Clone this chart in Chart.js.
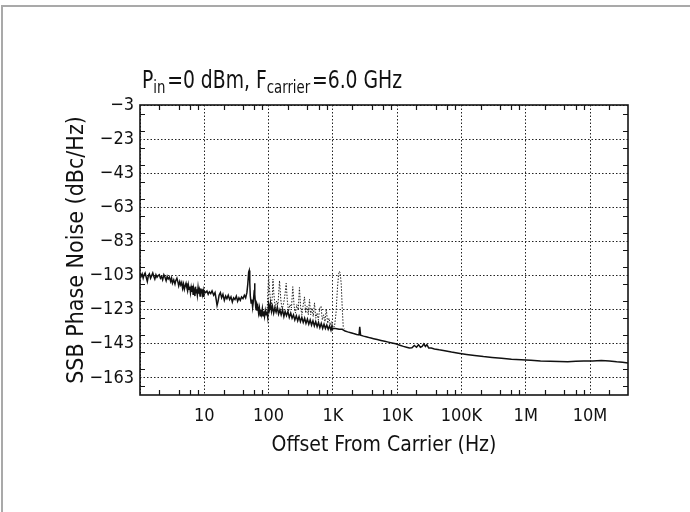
<!DOCTYPE html>
<html>
<head>
<meta charset="utf-8">
<script src="https://cdn.jsdelivr.net/npm/chart.js@4.4.1/dist/chart.umd.min.js"></script>
<style>
  html, body { margin: 0; padding: 0; background: #fff; overflow: hidden; }
  #wrap { position: relative; width: 690px; height: 512px; }
  #frame { position: absolute; left: 1px; top: 5px; width: 700px; height: 520px;
           border-left: 2px solid #a9a9a9; border-top: 2px solid #a9a9a9; }
  canvas { position: absolute; left: 0; top: 0; }
</style>
</head>
<body>
<div id="wrap">
  <div id="frame"></div>
  <canvas id="chart" width="690" height="512"></canvas>
</div>
<script>
// 軸の設定
const FONT = '"Liberation Sans Narrow", "DejaVu Sans Condensed", "Arial Narrow", sans-serif';
const xMin = 1, xMax = 3.9e7;
const yMin = -173, yMax = -3;

const xTicks = [1, 10, 100, 1e3, 1e4, 1e5, 1e6, 1e7];
const xTickLabels = ["", "10", "100", "1K", "10K", "100K", "1M", "10M"];
const yTicks = [-3, -13, -23, -33, -43, -53, -63, -73, -83, -93, -103, -113, -123, -133, -143, -153, -163, -173];
const yTickLabels = ["−3", "", "−23", "", "−43", "", "−63", "", "−83", "", "−103", "", "−123", "", "−143", "", "−163", ""];

// 実線トレース（位相雑音）
const noiseFreq = [
  1.0, 1.04, 1.08, 1.12, 1.16, 1.2, 1.25, 1.3, 1.35, 1.4, 1.46, 1.52, 1.58, 1.64, 1.7, 1.77, 1.84, 1.92,
  2.0, 2.08, 2.16, 2.25, 2.35, 2.45, 2.55, 2.65, 2.75, 2.87, 3.0, 3.1, 3.2, 3.35, 3.5, 3.6, 3.75, 3.9,
  4.0, 4.15, 4.3, 4.45, 4.6, 4.75, 4.9, 5.05, 5.2, 5.35, 5.5, 5.65, 5.8, 5.95, 6.1, 6.25, 6.4, 6.55,
  6.7, 6.85, 7.0, 7.15, 7.3, 7.45, 7.6, 7.8, 8.0, 8.2, 8.4, 8.6, 8.8, 9.0, 9.2, 9.4, 9.6, 9.8, 10,
  10.5, 11, 11.5, 12, 12.6, 13.2, 14, 14.7, 15.3, 15.8, 16.4, 17, 17.8, 18.6, 19.5, 20.5, 21.5, 22.5,
  23.6, 24.8, 26, 27.3, 28.6, 30, 31.5, 33, 34.6, 36.3, 38, 40, 42, 44, 46, 47.5,
  49, 50, 51, 52, 53.5, 55, 56.5, 58, 59.5, 60.5, 61.5, 63, 64.5, 66, 68, 70, 72, 74, 76, 78, 80, 82,
  84, 86.5, 89, 91.5, 94, 97, 100,
  103, 107, 111, 115, 120, 125, 131, 137, 143, 150, 157, 165, 173, 181, 190, 200, 210, 221, 232, 244,
  256, 270, 284, 298, 313, 329, 346, 364, 382, 402, 422, 444, 466, 490, 515, 541, 569, 598, 628, 660,
  694, 729, 766, 805, 846, 889, 934, 960, 985, 1010,
  1100, 1250, 1400, 1550, 1700, 1900, 2100, 2350, 2550, 2620, 2700, 3000, 3400, 3800, 4300, 4900,
  5600, 6400, 7300, 8300, 9500, 11000, 12500, 14000, 15500, 17000, 18500, 20000, 21500, 23000, 24500,
  26000, 27500, 29000, 31000, 34000, 38000, 45000, 55000, 70000, 90000, 120000, 160000, 220000,
  300000, 420000, 600000, 850000, 1.2e6, 1.7e6, 2.4e6, 3.3e6, 4.5e6, 6e6, 8e6, 1.1e7, 1.5e7, 2e7,
  2.6e7, 3.2e7, 3.9e7
];
const noiseDb = [
  -101.5, -103.5, -102, -104.5, -102.5, -101.5, -104, -106.5, -103, -102, -104.5, -103, -101.5, -103.5, -105, -102.5, -104, -103,
  -102.5, -104.5, -103.5, -105.5, -102.5, -104, -106, -103.5, -105, -104, -106.5, -104.5, -107.5, -105.5, -108, -106, -104.5, -107,
  -109, -106.5, -108.5, -107, -110.5, -108, -111, -109, -107.5, -110, -112, -108.5, -111, -109.5, -113, -110, -112.5, -109,
  -114, -110.5, -112, -115, -109.5, -113, -111, -114.5, -110, -113.5, -111.5, -115, -110.5, -113, -111, -114, -112, -115.5, -112,
  -113, -112, -114, -112.5, -113.5, -112, -114.5, -113, -117, -120.5, -118, -114.5, -113, -116, -114, -117.5, -115, -116.5,
  -114.5, -117, -115.5, -118.5, -116, -117, -115, -118, -116, -117.5, -115.5, -116.5, -114.5, -116, -113, -108,
  -101, -100, -107, -115, -119, -117, -121.5, -118, -113, -107.5, -114, -121, -119.5, -123.5, -121, -125, -122, -126.5, -123, -125.5, -122.5, -126.5,
  -124, -127, -123.5, -126, -124, -127.5, -120,
  -123, -119, -124, -121, -125, -122, -124.5, -121.5, -125.5, -123, -126, -123, -127, -124, -126.5, -124, -127.5, -125, -128, -126,
  -129, -126.5, -129.5, -127, -130, -127.5, -130.5, -128, -131, -128.5, -131.5, -129, -132, -129.5, -132.5, -130, -133, -130.5, -133.5, -131,
  -134, -131.5, -134, -132, -134.5, -132.5, -135, -133, -134.5, -134,
  -134, -134.5, -134.5, -135.5, -136, -136.5, -137, -137.5, -137.8, -133, -138, -138.5, -139, -139.5, -140, -140.5,
  -141, -141.5, -142, -142.5, -143, -143.8, -144.5, -145, -145.5, -145.3, -144, -145, -143.5, -145, -144.5,
  -143, -144.5, -143.5, -145.5, -145.5, -146, -146.5, -147, -147.8, -148.5, -149.2, -149.8, -150.5,
  -151, -151.5, -152, -152.3, -152.6, -153, -153.2, -153.3, -153.5, -153.2, -153, -153, -152.8, -153,
  -153.5, -153.8, -154.2
];

// 点線トレース（スプリアス）
const spurFreq = [
  95, 100, 104, 109, 114, 117, 121, 127, 133, 140, 148, 155, 162, 172, 180, 188, 196, 205, 215, 227,
  238, 250, 262, 275, 290, 302, 316, 330, 346, 362, 378, 396, 415, 433, 452, 472, 495, 518, 542, 568,
  595, 625, 655, 685, 720, 755, 790, 830, 870, 915, 960, 1000, 1060, 1120, 1180, 1230, 1265, 1300,
  1350, 1400, 1450, 1500
];
const spurDb = [
  -124, -103, -112, -121, -116, -105, -114, -122, -118, -120, -106, -117, -123, -119, -114, -107.5, -118, -124, -120, -122,
  -109.5, -121, -125, -120, -123, -110, -122, -126, -120, -115.5, -125, -121, -126, -117, -126, -122, -127, -119, -128, -125,
  -129, -122, -121, -129, -126, -130, -122.5, -131, -128, -132, -130, -133, -133, -125, -110, -102, -100.5, -101.5,
  -108, -122, -133, -134
];

// タイトル（下付き文字つき）
const titleParts = [
  { text: "P", sub: false }, { text: "in", sub: true }, { text: "=0 dBm, F", sub: false },
  { text: "carrier", sub: true }, { text: "=6.0 GHz", sub: false }
];

const toPoints = (xs, ys) => xs.map((x, i) => ({ x, y: ys[i] }));

// 枠・内向き目盛り・タイトルを描く
const framePlugin = {
  id: "framePlugin",
  afterDraw(chart) {
    const { ctx, chartArea: a, scales: { x, y } } = chart;
    ctx.save();
    ctx.strokeStyle = "#151515";
    ctx.lineWidth = 1.2;
    ctx.beginPath();
    yTicks.forEach(v => {
      const py = Math.round(y.getPixelForValue(v - 5)) + 0.5;
      if (v - 5 <= yMin) return;
      ctx.moveTo(a.left, py); ctx.lineTo(a.left + 5, py);
      ctx.moveTo(a.right, py); ctx.lineTo(a.right - 5, py);
    });
    xTicks.forEach(d => {
      [2, 4, 6, 8].forEach(m => {
        if (d * m >= xMax) return;
        const px = Math.round(x.getPixelForValue(d * m)) + 0.5;
        ctx.moveTo(px, a.bottom); ctx.lineTo(px, a.bottom - 5);
        ctx.moveTo(px, a.top); ctx.lineTo(px, a.top + 5);
      });
    });
    ctx.stroke();
    ctx.lineWidth = 1.6;
    ctx.strokeRect(a.left, a.top, a.right - a.left, a.bottom - a.top);

    // タイトル（やや横に詰める）
    const base = 88;
    ctx.fillStyle = "#111";
    ctx.textBaseline = "alphabetic";
    ctx.translate(142, 0);
    ctx.scale(0.87, 1);
    let tx = 0;
    titleParts.forEach(p => {
      ctx.font = (p.sub ? "17px " : "24px ") + FONT;
      ctx.fillText(p.text, tx, p.sub ? base + 5 : base);
      tx += ctx.measureText(p.text).width + (p.sub ? 2 : 0);
    });
    ctx.restore();
  }
};

const chart = new Chart(document.getElementById("chart"), {
  type: "line",
  data: {
    datasets: [
      {
        label: "spurs",
        data: toPoints(spurFreq, spurDb),
        borderColor: "#222",
        borderWidth: 1,
        borderDash: [1.5, 1.5],
        pointRadius: 0,
        tension: 0
      },
      {
        label: "SSB phase noise",
        data: toPoints(noiseFreq, noiseDb),
        borderColor: "#111",
        borderWidth: 1.5,
        pointRadius: 0,
        tension: 0
      }
    ]
  },
  options: {
    responsive: false,
    animation: false,
    layout: { padding: { left: 0, top: 105, right: 62, bottom: 0 } },
    plugins: { legend: { display: false }, tooltip: { enabled: false }, title: { display: false } },
    scales: {
      x: {
        type: "logarithmic",
        min: xMin,
        max: xMax,
        afterBuildTicks: s => { s.ticks = xTicks.map(v => ({ value: v })); },
        afterFit: s => { s.height = 117; },
        grid: { color: "#222", lineWidth: 1, drawTicks: false },
        border: { display: false, dash: [1.5, 2] },
        ticks: {
          autoSkip: false, maxRotation: 0, padding: 11, color: "#111",
          font: { family: FONT, size: 18 },
          callback: v => xTickLabels[xTicks.indexOf(v)] ?? ""
        },
        title: {
          display: true, text: "Offset From Carrier (Hz)", color: "#111",
          font: { family: FONT, size: 21 }, padding: { top: 0, bottom: 54 }
        }
      },
      y: {
        type: "linear",
        min: yMin,
        max: yMax,
        afterBuildTicks: s => { s.ticks = yTicks.map(v => ({ value: v })); },
        afterFit: s => { s.width = 140; },
        grid: { color: "#222", lineWidth: 1, drawTicks: false },
        border: { display: false, dash: [1.5, 2] },
        ticks: {
          padding: 6, color: "#111",
          font: { family: FONT, size: 18 },
          callback: v => yTickLabels[yTicks.indexOf(v)] ?? ""
        },
        title: {
          display: true, text: "SSB Phase Noise (dBc/Hz)", color: "#111",
          font: { family: FONT, size: 23 }, padding: { top: 63, bottom: 0 }
        }
      }
    }
  },
  plugins: [framePlugin]
});
</script>
</body>
</html>
